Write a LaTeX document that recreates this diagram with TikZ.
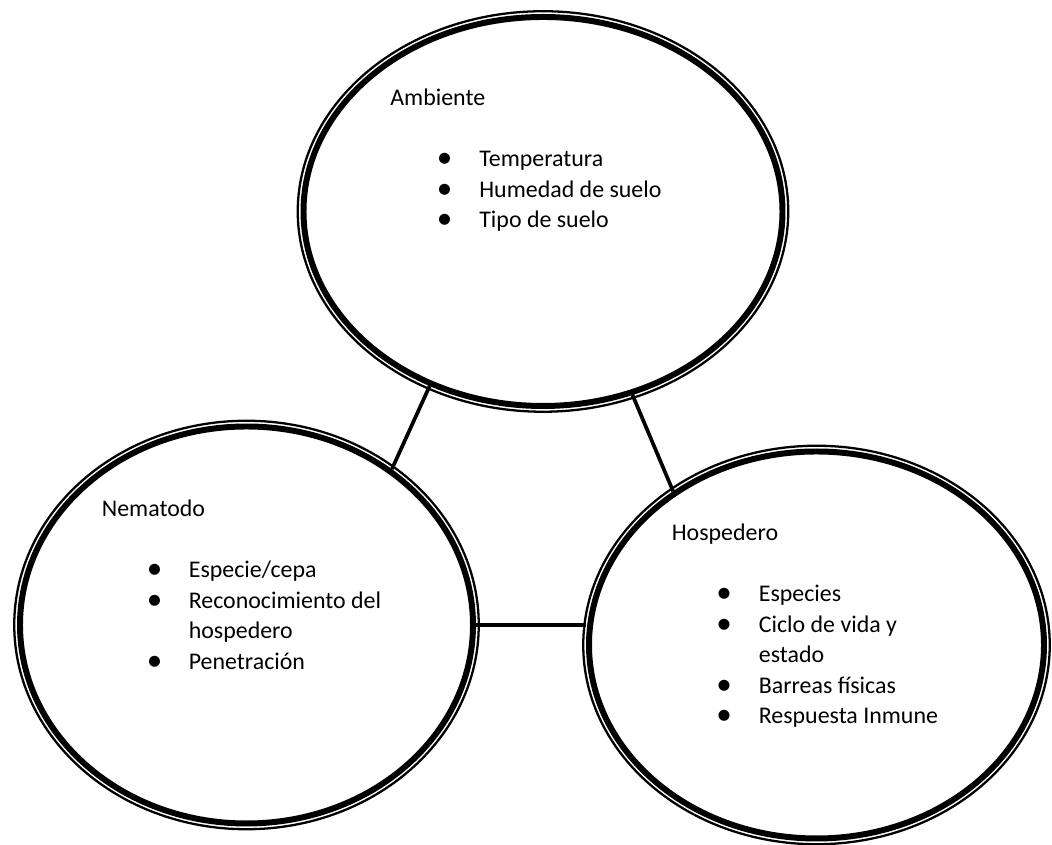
\documentclass[tikz,border=0pt]{standalone}
\usepackage{fontspec}
\setmainfont{Carlito}
\usepackage{graphicx}
\usetikzlibrary{shapes.geometric}

\newcommand{\bul}{\raisebox{-0.05em}{\scalebox{1.3}{•}}}

\begin{document}
\begin{tikzpicture}[
		ring/.style={ellipse, draw, line width=3.4pt, inner sep=0pt},
		rim/.style={line width=1.3pt},
		link/.style={line width=2.1pt},
		heading/.style={anchor=base west, inner sep=0pt, font=\fontsize{13.6}{17.4}\selectfont},
		items/.style={anchor=base west, inner sep=0pt, font=\fontsize{13.6}{17.4}\selectfont}
	]
			\useasboundingbox (0,0) rectangle (21.04,16.9);

			% the three circles
			\node[ring, minimum width=9.58cm, minimum height=7.78cm] (ambiente) at (10.86,12.67) {};
			\node[ring, minimum width=9.06cm, minimum height=7.94cm] (nematodo) at (4.93,4.40) {};
			\node[ring, minimum width=9.10cm, minimum height=7.74cm] (hospedero) at (16.33,4.00) {};

			\draw[rim] (ambiente.center) ellipse (4.905 and 4.005);
			\draw[rim] (nematodo.center) ellipse (4.645 and 4.085);
			\draw[rim] (hospedero.center) ellipse (4.665 and 3.985);

			\draw[link] (ambiente.237.7) -- (nematodo.47.2);
			\draw[link] (ambiente.296.8) -- (hospedero.133);
			\draw[link] (nematodo.east) -- (nematodo.east -| hospedero.west);

			% texts
			\node[heading] (amb-title) at (7.80,14.78) {Ambiente};
			\node[items] (amb-list) at (8.73,13.57) {\begin{tabular}[t]{@{}p{0.85cm}@{}l@{}}
				\bul & Temperatura\\
				\bul & Humedad de suelo\\
				\bul & Tipo de suelo
			\end{tabular}};

			\node[heading] (nem-title) at (2.03,6.57) {Nematodo};
			\node[items] (nem-list) at (2.93,5.35) {\begin{tabular}[t]{@{}p{0.84cm}@{}l@{}}
				\bul & Especie/cepa\\
				\bul & Reconocimiento del\\
				     & hospedero\\
				\bul & Penetración
			\end{tabular}};

			\node[heading] (hos-title) at (13.43,6.08) {Hospedero};
			\node[items] (hos-list) at (14.32,4.87) {\begin{tabular}[t]{@{}p{0.85cm}@{}l@{}}
				\bul & Especies\\
				\bul & Ciclo de vida y\\
				     & estado\\
				\bul & Barreas físicas\\
				\bul & Respuesta Inmune
			\end{tabular}};
		\end{tikzpicture}
\end{document}
